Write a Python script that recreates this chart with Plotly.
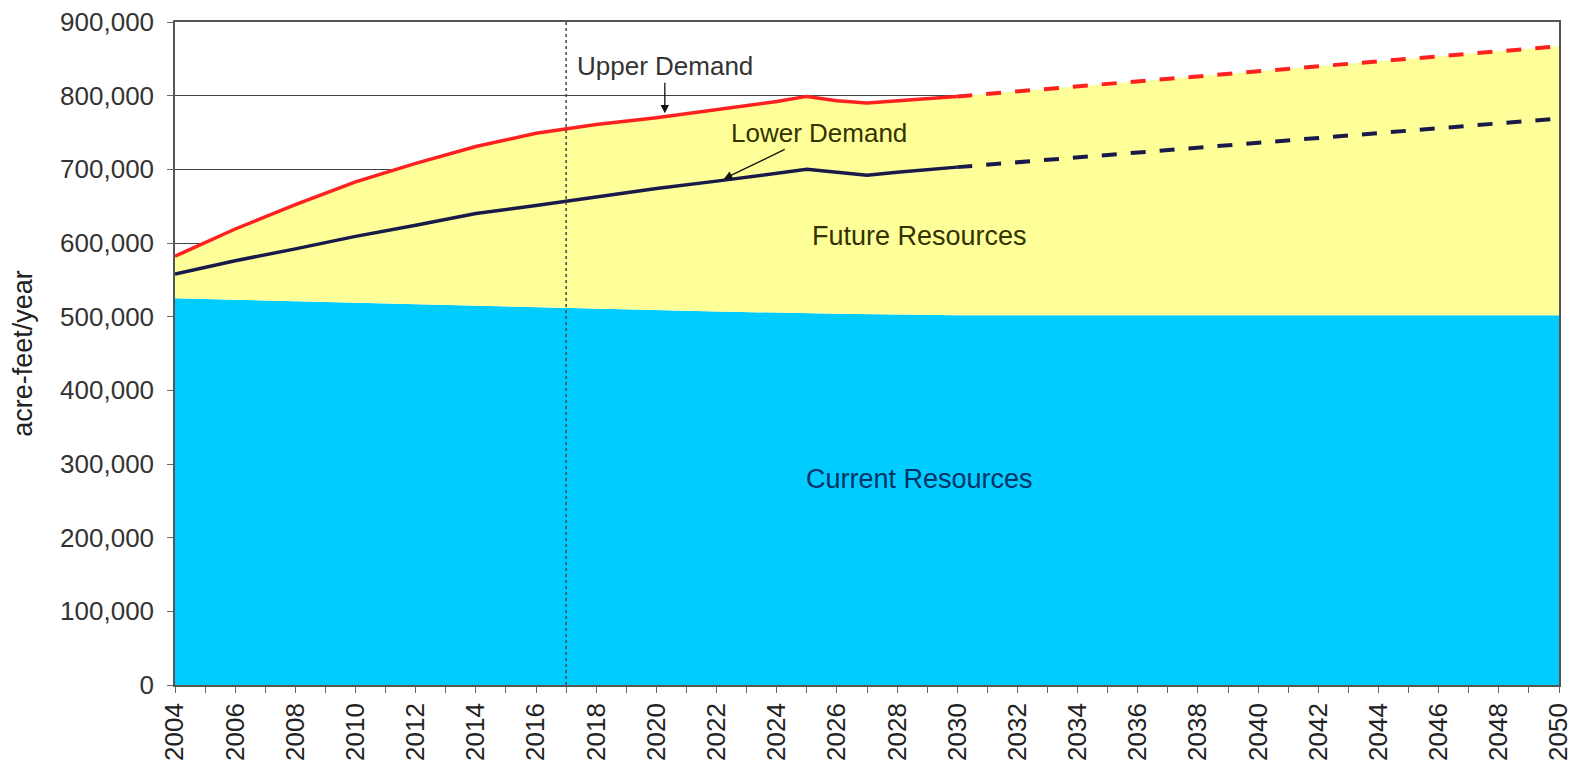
import plotly.graph_objects as go

# Current resources (acre-feet/year)
cur_years = [2004, 2008, 2012, 2017, 2022, 2026, 2030, 2040, 2050]
cur_vals = [525000, 521000, 516000, 511000, 507000, 504000, 502000, 502000, 502000]

# Upper demand (solid part)
up_years = [2004, 2006, 2008, 2010, 2012, 2014, 2016, 2017, 2018, 2020, 2022, 2024, 2025, 2026, 2027, 2028, 2029, 2030]
up_vals = [582000, 619000, 652000, 683000, 708000, 731000, 749000, 755000, 761000, 770000, 781000, 792000, 799000, 793000, 790000, 793000, 797000, 799000]
# Upper demand extension (dashed)
up_ext_years = [2030, 2050]
up_ext_vals = [799000, 867000]

# Lower demand
lo_years = [2004, 2006, 2008, 2010, 2012, 2014, 2016, 2017, 2018, 2020, 2022, 2024, 2025, 2026, 2027, 2028, 2029, 2030]
lo_vals = [558000, 576000, 592000, 609000, 624000, 640000, 651000, 657000, 663000, 674000, 684000, 695000, 700000, 696000, 692000, 696000, 700000, 703000]
lo_ext_years = [2030, 2050]
lo_ext_vals = [703000, 769000]

divider_year = 2017

tick_years = list(range(2004, 2051, 2))
y_ticks = list(range(0, 900001, 100000))

fig = go.Figure()
fig.add_trace(go.Scatter(x=cur_years, y=cur_vals, mode="lines", line=dict(width=0, color="#00CCFF"),
                         fill="tozeroy", fillcolor="#00CCFF", hoverinfo="skip", showlegend=False))
fig.add_trace(go.Scatter(x=up_years + up_ext_years[1:], y=up_vals + up_ext_vals[1:], mode="lines",
                         line=dict(width=0, color="#FFFF99"), fill="tonexty", fillcolor="#FFFF99",
                         hoverinfo="skip", showlegend=False))
fig.add_trace(go.Scatter(x=up_years, y=up_vals, mode="lines", line=dict(color="#FF2020", width=3.5), showlegend=False))
fig.add_trace(go.Scatter(x=up_ext_years, y=up_ext_vals, mode="lines",
                         line=dict(color="#FF2020", width=4, dash="15px,14px"), showlegend=False))
fig.add_trace(go.Scatter(x=lo_years, y=lo_vals, mode="lines", line=dict(color="#1A1A4A", width=3.5), showlegend=False))
fig.add_trace(go.Scatter(x=lo_ext_years, y=lo_ext_vals, mode="lines",
                         line=dict(color="#1A1A4A", width=4, dash="15px,14px"), showlegend=False))

fig.add_shape(type="line", x0=divider_year, x1=divider_year, y0=0, y1=1, yref="paper",
              line=dict(color="#444444", width=1.5, dash="dot"))

font = "Liberation Sans, Arial, sans-serif"
fig.add_annotation(x=2020.28, y=776000, ax=0, ay=-47, text="Upper Demand", showarrow=True,
                   arrowhead=2, arrowsize=1.3, arrowwidth=1.3, arrowcolor="#111111",
                   font=dict(family=font, size=26, color="#333333"))
fig.add_annotation(x=2022.24, y=687000, ax=95, ay=-46, text="Lower Demand", showarrow=True,
                   arrowhead=2, arrowsize=1.3, arrowwidth=1.3, arrowcolor="#111111",
                   font=dict(family=font, size=26, color="#333300"))
fig.add_annotation(x=2028.75, y=610000, text="Future Resources", showarrow=False,
                   font=dict(family=font, size=27, color="#333300"))
fig.add_annotation(x=2028.75, y=280000, text="Current Resources", showarrow=False,
                   font=dict(family=font, size=27, color="#003366"))

fig.update_layout(
    width=1572, height=761,
    margin=dict(l=167, r=21, t=14, b=84),
    paper_bgcolor="white", plot_bgcolor="white",
    font=dict(family=font, color="#333333"),
)
fig.update_xaxes(range=[2004, 2050], tickmode="array", tickvals=tick_years,
                 ticktext=[str(y) for y in tick_years], tickangle=-90, automargin=False,
                 ticklabeloverflow="allow",
                 tickfont=dict(size=26, color="#222222"), showgrid=False,
                 showline=True, linecolor="#555555", linewidth=1.5, mirror=True,
                 ticks="outside", ticklen=6, tickcolor="#666666",
                 minor=dict(ticks="outside", dtick=1, ticklen=6, tickcolor="#666666"))
fig.update_yaxes(range=[0, 900000], tickmode="array", tickvals=y_ticks, tickformat=",",
                 automargin=False, ticklabelstandoff=8, ticklabeloverflow="allow",
                 tickfont=dict(size=26, color="#333333"), showgrid=True, gridcolor="#444444", gridwidth=1,
                 showline=True, linecolor="#555555", linewidth=1.5, mirror=True,
                 ticks="outside", ticklen=6, tickcolor="#666666", zeroline=False,
                 title=dict(text="acre-feet/year", font=dict(size=27, color="#222222"), standoff=32))

fig.write_html("out.html")
